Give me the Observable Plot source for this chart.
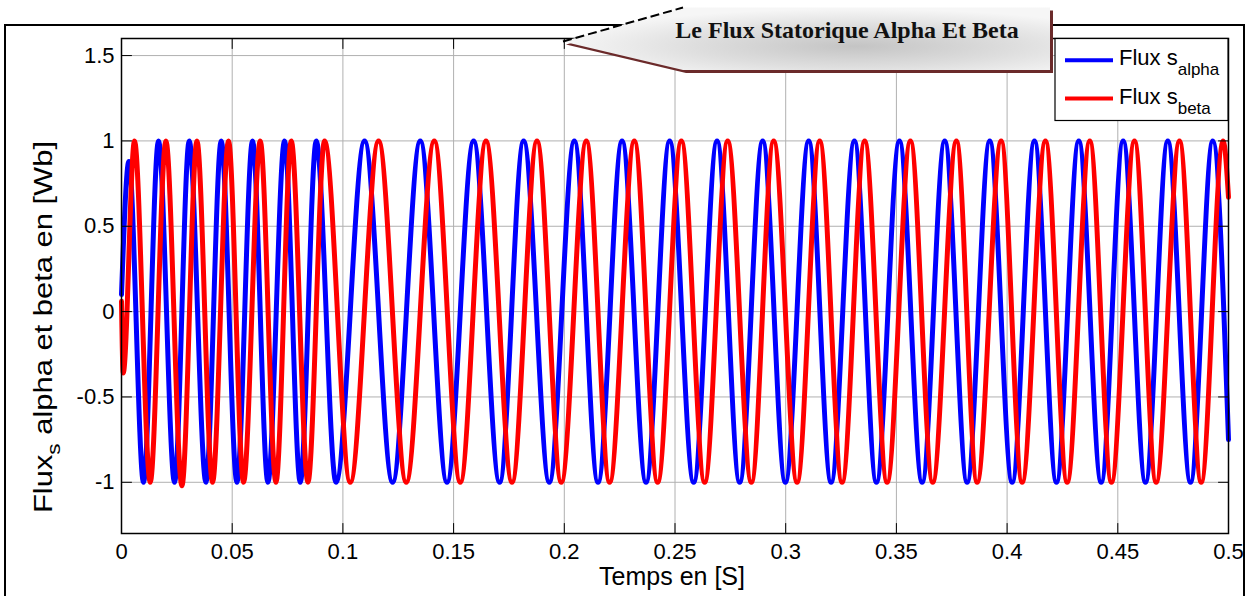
<!DOCTYPE html>
<html><head><meta charset="utf-8">
<script src="https://cdn.jsdelivr.net/npm/d3@7"></script>
<script src="https://cdn.jsdelivr.net/npm/@observablehq/plot@0.6"></script>
<style>
html,body{margin:0;padding:0;background:#fff;}
#chart{position:relative;width:1250px;height:596px;overflow:hidden;}
</style>
</head><body><div id="chart"></div>
<script>
// Flux s_alpha : extrema (time in s, value in Wb)
const alphaTime = [0, 0.00334, 0.00994, 0.01672, 0.02395, 0.03059, 0.03813, 0.04504, 0.05214, 0.05918, 0.06614,
  0.07364, 0.08074, 0.08796, 0.09686, 0.10978, 0.12244, 0.13495, 0.14701, 0.15903, 0.17078, 0.18162, 0.19323,
  0.20453, 0.21523, 0.22608, 0.23692, 0.24758, 0.25843, 0.26900, 0.27921, 0.28960, 0.29985, 0.31038, 0.32050,
  0.33103, 0.34097, 0.35136, 0.36162, 0.37183, 0.38194, 0.39216, 0.40228, 0.41235, 0.42229, 0.43237, 0.44249,
  0.45242, 0.46250, 0.47258, 0.48283, 0.49290, 0.5];
const alphaValue = [0.1, 0.88, -1, 1, -1, 1, -1, 1, -1, 1, -1,
  1, -1, 1, -1, 1, -1, 1, -1, 1, -1, 1, -1,
  1, -1, 1, -1, 1, -1, 1, -1, 1, -1, 1, -1,
  1, -1, 1, -1, 1, -1, 1, -1, 1, -1, 1, -1,
  1, -1, 1, -1, 1, -0.75];

// Flux s_beta
const betaTime = [0, 0.00077, 0.00587, 0.01297, 0.02006, 0.02729, 0.03407, 0.04111, 0.04834, 0.05512, 0.06266,
  0.06976, 0.07667, 0.08421, 0.09171, 0.10332, 0.11611, 0.12862, 0.14128, 0.15302, 0.16463, 0.17638, 0.18767,
  0.19865, 0.20995, 0.22048, 0.23163, 0.24216, 0.25287, 0.26340, 0.27379, 0.28450, 0.29457, 0.30514, 0.31535,
  0.32547, 0.33568, 0.34580, 0.35633, 0.36641, 0.37711, 0.38646, 0.39731, 0.40680, 0.41732, 0.42713, 0.43734,
  0.44714, 0.45753, 0.46733, 0.47786, 0.48767, 0.49760, 0.5];
const betaValue = [0.06, -0.36, 1, -1, 1, -1.02, 1, -1, 1, -1, 1,
  -1, 1, -1, 1, -1, 1, -1, 1, -1, 1, -1, 1,
  -1, 1, -1, 1, -1, 1, -1, 1, -1, 1, -1, 1,
  -1, 1, -1, 1, -1, 1, -1, 1, -1, 1, -1, 1,
  -1, 1, -1, 1, -1, 1, 0.67];

const xTicks = [0, 0.05, 0.1, 0.15, 0.2, 0.25, 0.3, 0.35, 0.4, 0.45, 0.5];
const yTicks = [-1, -0.5, 0, 0.5, 1, 1.5];
const xDomain = [0, 0.5];
const yDomain = [-1.3, 1.6];

const titleText = "Le Flux Statorique Alpha Et Beta";
const xLabel = "Temps en [S]";
const legendItems = [
  {main: "Flux s", sub: "alpha", color: "#0000ff"},
  {main: "Flux s", sub: "beta", color: "#ff0000"}
];

const alphaData = alphaTime.map((t, i) => ({t, v: alphaValue[i]}));
const betaData = betaTime.map((t, i) => ({t, v: betaValue[i]}));

const fmt = d => String(+d.toFixed(2)).replace("\u2212", "-");
const tickShape = {draw(ctx, l) { ctx.moveTo(0, 0); ctx.lineTo(0, -l); }};
const FONT = "'Liberation Sans', Arial, sans-serif";

const svg = Plot.plot({
  width: 1250, height: 596,
  marginLeft: 121, marginRight: 22, marginTop: 38, marginBottom: 63,
  style: {fontFamily: FONT, fontSize: "22px", background: "white", overflow: "visible"},
  x: {domain: xDomain},
  y: {domain: yDomain},
  marks: [
    Plot.gridX(xTicks, {stroke: "#b0b0b0", strokeOpacity: 1, strokeWidth: 1}),
    Plot.gridY(yTicks, {stroke: "#b0b0b0", strokeOpacity: 1, strokeWidth: 1}),
    Plot.line(alphaData, {x: "t", y: "v", stroke: "#0000ff", strokeWidth: 5, curve: "monotone-x"}),
    Plot.line(betaData, {x: "t", y: "v", stroke: "#ff0000", strokeWidth: 5, curve: "monotone-x"}),
    Plot.vector(xTicks, {x: d => d, frameAnchor: "bottom", length: 10, rotate: 0, anchor: "start", shape: tickShape, stroke: "black", strokeWidth: 1}),
    Plot.vector(xTicks, {x: d => d, frameAnchor: "top", length: 10, rotate: 180, anchor: "start", shape: tickShape, stroke: "black", strokeWidth: 1}),
    Plot.vector(yTicks, {y: d => d, frameAnchor: "left", length: 10, rotate: 90, anchor: "start", shape: tickShape, stroke: "black", strokeWidth: 1}),
    Plot.vector(yTicks, {y: d => d, frameAnchor: "right", length: 10, rotate: -90, anchor: "start", shape: tickShape, stroke: "black", strokeWidth: 1}),
    Plot.frame({stroke: "black", strokeWidth: 1.5}),
    Plot.axisX(xTicks, {tickSize: 0, tickPadding: 10, tickFormat: fmt, label: null, fontSize: 22, fill: "black"}),
    Plot.axisY(yTicks, {tickSize: 0, tickPadding: 7, tickFormat: fmt, label: null, fontSize: 22, fill: "black"})
  ]
});

const s = d3.select(svg);
// outer figure frame
s.insert("rect", ":first-child").attr("x", 5).attr("y", 25).attr("width", 1239).attr("height", 600)
  .attr("fill", "none").attr("stroke", "black").attr("stroke-width", 2);
s.insert("rect", ":first-child").attr("x", 0).attr("y", 0).attr("width", 1250).attr("height", 596).attr("fill", "white");

// x label
s.append("text").attr("x", 672).attr("y", 585).attr("text-anchor", "middle")
  .attr("font-family", FONT).attr("font-size", 25).attr("fill", "black").text(xLabel);

// y label with subscript
const yl = s.append("text").attr("transform", "translate(52,513) rotate(-90)").attr("text-anchor", "start")
  .attr("font-family", FONT).attr("font-size", 26).attr("fill", "black")
  .attr("textLength", 372).attr("lengthAdjust", "spacingAndGlyphs");
yl.append("tspan").text("Flux");
yl.append("tspan").attr("font-size", 19).attr("dy", 8).text("s");
yl.append("tspan").attr("dy", -8).text(" alpha et beta en [Wb]");

// title callout
const defs = s.append("defs");
const g = defs.append("radialGradient").attr("id", "calloutGrad").attr("cx", "0.6").attr("cy", "0.62").attr("r", "0.6");
g.append("stop").attr("offset", "0").attr("stop-color", "#c4c4c4");
g.append("stop").attr("offset", "0.55").attr("stop-color", "#dedede");
g.append("stop").attr("offset", "1").attr("stop-color", "#f6f6f6");
const pts = [[563, 41.5], [683, 7.5], [1050, 7.5], [1050, 70], [683, 70]];
s.append("polygon").attr("points", pts.map(p => [p[0] + 3, p[1] + 3].join(",")).join(" ")).attr("fill", "#6b2a2a");
s.append("polygon").attr("points", pts.map(p => p.join(",")).join(" ")).attr("fill", "url(#calloutGrad)");
s.append("line").attr("x1", 563).attr("y1", 41.5).attr("x2", 683).attr("y2", 7.5)
  .attr("stroke", "black").attr("stroke-width", 2).attr("stroke-dasharray", "9 4");
s.append("text").attr("x", 847).attr("y", 38).attr("text-anchor", "middle")
  .attr("font-family", "'Liberation Serif', 'Times New Roman', serif").attr("font-weight", "bold")
  .attr("font-size", 24).attr("fill", "#111").text(titleText);

// legend
const lg = s.append("g");
lg.append("rect").attr("x", 1055).attr("y", 38.5).attr("width", 173).attr("height", 82)
  .attr("fill", "white").attr("stroke", "black").attr("stroke-width", 1.2);
legendItems.forEach((it, i) => {
  const y = 60.3 + i * 38.3;
  lg.append("line").attr("x1", 1065).attr("x2", 1113).attr("y1", y).attr("y2", y)
    .attr("stroke", it.color).attr("stroke-width", 4);
  const t = lg.append("text").attr("x", 1119).attr("y", y + 5).attr("text-anchor", "start")
    .attr("font-family", FONT).attr("font-size", 22).attr("fill", "black");
  t.append("tspan").text(it.main);
  t.append("tspan").attr("font-size", 17).attr("dy", 10).text(it.sub);
});

document.getElementById("chart").appendChild(svg);
</script>
</body></html>
